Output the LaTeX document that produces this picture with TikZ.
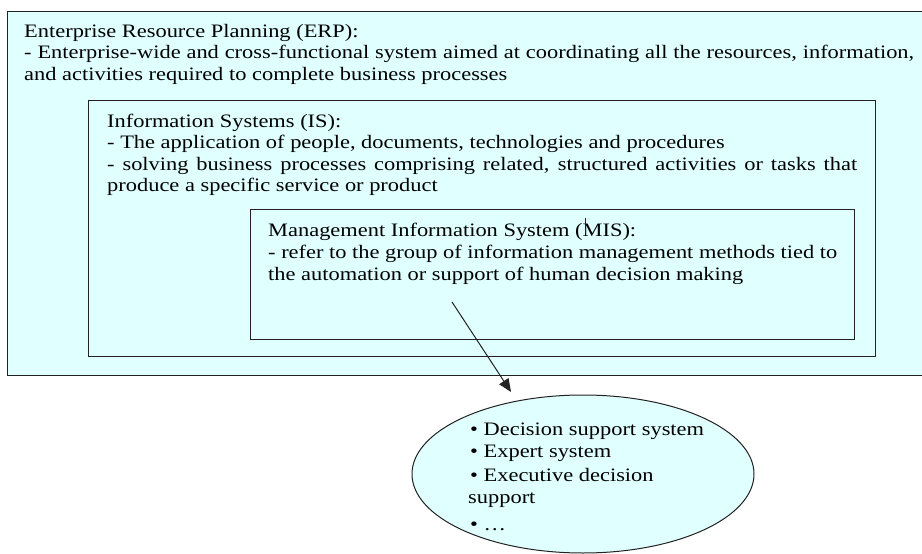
\documentclass[tikz,border=0pt]{standalone}
\usepackage{fontspec}
\setmainfont{Liberation Serif}[FakeStretch=1.18]
\usetikzlibrary{shapes.geometric,arrows.meta}
\definecolor{boxfill}{HTML}{E0FFFF}
\definecolor{edge}{HTML}{222222}
\begin{document}
\begin{tikzpicture}[x=1pt,y=-1pt,
  txt/.style={anchor=base west, inner sep=0pt, font=\fontsize{19}{22}\selectfont},
  box/.style={draw=edge, line width=1pt, fill=boxfill, rectangle, anchor=north west, inner sep=0pt},
  bubble/.style={draw=edge, line width=1pt, fill=boxfill, ellipse, inner sep=0pt},
  conn/.style={draw=edge, line width=1pt, -{Triangle[length=13pt,width=11pt]}}]
\useasboundingbox (0,0) rectangle (922,554);
\clip (0,0) rectangle (922,554);
% boxes
\node[box, minimum width=928pt, minimum height=364pt] (erp) at (7,11) {};
\node[box, minimum width=787pt, minimum height=256pt] (is) at (88,100) {};
\node[box, minimum width=604pt, minimum height=130pt] (mis) at (250,209) {};
\node[bubble, minimum width=342pt, minimum height=158pt] (ell) at (583,474) {};
% ERP text
\node[txt] (e1) at (24,37) {Enterprise Resource Planning (ERP):};
\node[txt] (e2) at (24,58.5) {\makebox[890pt][s]{- Enterprise-wide and cross-functional system aimed at coordinating all the resources, information,}};
\node[txt] (e3) at (24,80) {and activities required to complete business processes};
% IS text
\node[txt] (i1) at (107,127) {Information Systems (IS):};
\node[txt] (i2) at (107,148.5) {- The application of people, documents, technologies and procedures};
\node[txt] (i3) at (107,170) {\makebox[750pt][s]{- solving business processes comprising related, structured activities or tasks that}};
\node[txt] (i4) at (107,191.5) {produce a specific service or product};
% MIS text
\node[txt] (m1) at (268,236.5) {Management Information System (MIS):};
\node[txt] (m2) at (268,258.5) {- refer to the group of information management methods tied to};
\node[txt] (m3) at (268,280.5) {the automation or support of human decision making};
\coordinate (cur1) at (585,218);
\coordinate (cur2) at (585,233);
\draw[edge, line width=0.8pt] (cur1) -- (cur2);
% ellipse text
\node[txt] (b1) at (470,435) {• Decision support system};
\node[txt] (b2) at (470,457) {• Expert system};
\node[txt] (b3) at (470,481) {• Executive decision};
\node[txt] (b4) at (468,503) {support};
\node[txt] (b5) at (470,530) {• …};
% connector
\coordinate (a1) at (452,302);
\coordinate (a2) at (511,392);
\draw[conn] (a1) -- (a2);
\end{tikzpicture}
\end{document}
